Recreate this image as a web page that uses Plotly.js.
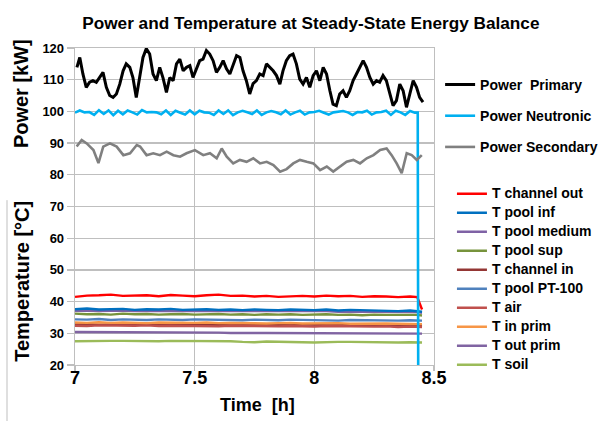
<!DOCTYPE html>
<html>
<head>
<meta charset="utf-8">
<script src="https://cdn.plot.ly/plotly-3.0.1.min.js"></script>
<style>html,body{margin:0;padding:0;background:#fff}#chart{width:598px;height:421px}</style>
</head>
<body>
<div id="chart"></div>
<script>
// ---------- data ----------
const tPrimary = [7.008,7.020,7.033,7.047,7.061,7.075,7.089,7.103,7.117,7.131,7.145,7.159,7.173,7.187,7.201,7.214,7.229,7.242,7.256,7.270,7.284,7.298,7.312,7.326,7.340,7.354,
  7.368,7.382,7.396,7.410,7.424,7.438,7.452,7.466,7.480,7.493,7.507,7.521,7.535,7.549,7.563,7.577,7.591,7.605,7.619,7.633,7.647,7.661,7.675,7.689,7.702,7.716,7.730,
  7.744,7.758,7.772,7.786,7.800,7.814,7.828,7.842,7.856,7.869,7.883,7.897,7.911,7.925,7.939,7.953,7.967,7.981,7.995,8.009,8.023,8.037,8.051,8.065,8.078,8.092,8.106,
  8.120,8.134,8.148,8.162,8.176,8.190,8.204,8.218,8.232,8.246,8.260,8.273,8.287,8.301,8.315,8.329,8.343,8.357,8.371,8.385,8.399,8.413,8.427,8.440,8.454];
const powerPrimary = [113.9,117.0,111.8,107.6,109.2,109.7,109.2,110.7,112.3,107.6,105.0,104.4,105.5,108.6,112.8,115.0,113.9,110.7,104.4,110.7,117.0,119.8,118.1,111.8,109.7,113.9,
  110.5,106.0,110.7,109.7,115.0,116.5,112.8,113.9,114.4,110.7,113.4,116.0,116.5,119.2,118.1,116.0,112.3,113.9,116.0,113.4,111.8,115.0,117.6,117.0,112.8,109.7,105.5,
  108.8,109.7,111.8,111.3,115.0,113.9,112.8,111.3,108.6,112.8,116.0,117.6,118.1,115.0,110.2,108.6,110.7,107.6,111.3,112.8,109.7,113.9,111.8,106.5,102.3,101.8,105.5,
  106.5,104.4,106.5,109.7,111.8,113.9,116.0,113.9,110.7,108.6,109.7,109.2,111.3,109.7,105.5,101.8,103.4,108.6,106.5,101.3,105.5,109.7,107.6,104.4,102.9];

const tNeutronic = [7.00,7.02,7.04,7.06,7.08,7.10,7.12,7.14,7.16,7.18,7.20,7.22,7.24,7.26,7.28,7.30,7.32,7.34,7.36,7.38,
  7.40,7.42,7.44,7.46,7.48,7.50,7.52,7.54,7.56,7.58,7.60,7.62,7.64,7.66,7.68,7.70,7.72,7.74,7.76,7.78,
  7.80,7.82,7.84,7.86,7.88,7.90,7.92,7.94,7.96,7.98,8.00,8.02,8.04,8.06,8.08,8.10,8.12,8.14,8.16,8.18,
  8.20,8.22,8.24,8.26,8.28,8.30,8.32,8.34,8.36,8.38,8.40,8.42,8.432,8.434];
const powerNeutronic = [99.6,100.3,99.7,99.8,98.9,100.4,99.2,100.3,98.8,100.2,99.1,100.3,99.7,99.0,100.4,99.7,99.8,99.7,99.1,100.3,
  98.9,100.2,99.6,99.0,100.3,99.1,100.2,99.7,99.6,98.9,100.3,99.2,100.3,98.8,99.7,100.2,99.7,99.2,100.3,98.9,
  99.7,100.1,99.7,99.1,100.3,99.0,99.7,100.2,99.0,99.7,99.8,100.2,99.6,99.0,99.7,99.8,100.1,99.7,98.9,99.8,
  99.7,100.2,99.0,99.7,99.8,100.2,98.9,100.2,99.7,98.9,100.1,99.6,99.6,20.0];

const tSecondary = [7.007,7.028,7.049,7.077,7.098,7.118,7.146,7.174,7.202,7.230,7.258,7.272,7.299,7.327,7.355,7.383,7.411,7.439,7.466,7.501,
  7.536,7.564,7.592,7.613,7.634,7.661,7.689,7.717,7.745,7.773,7.801,7.829,7.857,7.884,7.912,7.940,7.968,7.996,8.024,8.052,
  8.079,8.107,8.135,8.163,8.191,8.219,8.247,8.275,8.302,8.323,8.344,8.365,8.386,8.407,8.428,8.449];
const powerSecondary = [88.9,91.0,89.9,87.8,83.7,88.9,89.9,88.9,86.2,86.8,89.4,88.9,86.2,86.8,86.2,87.3,86.2,85.7,86.8,87.8,
  86.2,86.8,85.2,88.3,85.7,83.6,84.7,84.1,85.2,83.6,84.1,83.1,81.0,81.8,83.6,84.7,84.1,83.6,81.5,82.6,
  81.0,82.6,84.1,84.7,83.6,85.2,86.2,87.8,88.3,86.2,83.6,80.5,86.8,86.2,84.7,86.2];

const tTemp = [7.00,7.05,7.10,7.15,7.20,7.25,7.30,7.35,7.40,7.45,7.50,7.55,7.60,7.65,7.70,7.75,7.80,7.85,7.90,7.95,
  8.00,8.05,8.10,8.15,8.20,8.25,8.30,8.35,8.40,8.43,8.45];
const tChannelOut = [41.5,41.9,42.0,42.2,41.8,41.9,42.0,41.7,42.1,41.9,41.7,42.0,42.2,41.8,41.9,41.6,41.8,41.5,41.7,41.8,41.6,41.9,41.7,41.8,41.5,41.7,41.6,41.4,41.6,41.4,37.5];
const tPoolInf = [37.6,37.8,37.5,37.6,37.7,37.4,37.6,37.5,37.7,37.4,37.5,37.6,37.4,37.5,37.3,37.5,37.4,37.3,37.5,37.4,37.3,37.5,37.2,37.4,37.3,37.1,37.2,37.0,37.2,37.1,36.8];
const tPoolMedium = [37.1,37.2,37.0,37.1,37.2,37.0,37.1,37.0,37.1,37.0,37.0,37.1,37.0,37.0,36.9,37.0,37.0,36.9,37.0,36.9,36.9,37.0,36.8,36.9,36.9,36.8,36.8,36.7,36.8,36.7,36.5];
const tPoolSup = [36.2,36.0,36.1,35.9,36.2,36.0,36.1,35.9,36.0,36.1,35.9,36.0,36.1,35.9,36.0,35.8,36.0,35.9,36.0,35.8,35.9,36.0,35.8,35.9,35.7,35.9,35.8,35.7,35.8,35.8,35.6];
const tChannelIn = [32.8,32.9,32.7,32.8,32.9,32.7,32.8,32.7,32.9,32.8,32.7,32.8,32.7,32.8,32.6,32.8,32.7,32.6,32.8,32.7,32.6,32.7,32.6,32.7,32.6,32.5,32.6,32.5,32.6,32.5,32.4];
const tPoolPT100 = [34.4,34.3,34.5,34.2,34.4,34.3,34.2,34.4,34.3,34.2,34.4,34.3,34.2,34.3,34.1,34.3,34.2,34.1,34.3,34.2,34.1,34.2,34.0,34.2,34.1,34.0,34.1,34.0,34.1,34.0,34.0];
const tAir = [32.4,32.3,32.5,32.4,32.3,32.4,32.5,32.3,32.4,32.3,32.4,32.3,32.2,32.4,32.3,32.2,32.3,32.2,32.3,32.2,32.1,32.3,32.2,32.1,32.2,32.1,32.2,32.0,32.1,32.1,32.0];
const tInPrim = [33.4,33.3,33.5,33.3,33.4,33.3,33.2,33.4,33.3,33.2,33.3,33.4,33.2,33.3,33.2,33.3,33.1,33.2,33.3,33.1,33.2,33.1,33.2,33.0,33.1,33.0,33.1,33.0,33.0,33.0,32.9];
const tOutPrim = [30.4,30.4,30.3,30.4,30.3,30.3,30.3,30.2,30.3,30.2,30.2,30.2,30.2,30.1,30.2,30.1,30.1,30.1,30.1,30.0,30.1,30.0,30.0,30.0,30.0,29.9,30.0,29.9,29.9,29.9,29.9];
const tSoil = [27.5,27.6,27.5,27.6,27.6,27.5,27.6,27.5,27.6,27.6,27.5,27.5,27.4,27.5,27.3,27.2,27.4,27.4,27.3,27.2,27.1,27.3,27.3,27.3,27.2,27.3,27.0,27.1,27.2,27.2,27.1];

const tempNames = ['T channel out','T pool inf','T pool medium','T pool sup','T channel in','T pool PT-100','T air','T in prim','T out prim','T soil'];
const tempSeries = [tChannelOut,tPoolInf,tPoolMedium,tPoolSup,tChannelIn,tPoolPT100,tAir,tInPrim,tOutPrim,tSoil];
const tempColors = ['#FF0000','#0070C0','#7F62A5','#77933C','#943634','#4F81BD','#C0504D','#F79646','#8064A2','#9BBB59'];

const powerNames = ['Power  Primary','Power Neutronic','Power Secondary'];
const powerX = [tPrimary,tNeutronic,tSecondary];
const powerY = [powerPrimary,powerNeutronic,powerSecondary];
const powerColors = ['#000000','#00B0F0','#808080'];
const powerWidths = [3,2.6,2.6];

const yTicks = [20,30,40,50,60,70,80,90,100,110,120];
const xTicks = [7,7.5,8,8.5];
const xTickText = ['7','7.5','8','8.5'];

// ---------- traces ----------
const FONT = 'Liberation Sans, Arial, sans-serif';
const traces = tempNames.map((n,i)=>({x:tTemp,y:tempSeries[i],type:'scatter',mode:'lines',
  name:'<span style="font-size:14px">'+n+'</span>',
  line:{color:tempColors[i],width:2.4},legend:'legend2',legendrank:i+1}));
// draw "T pool medium" beneath "T pool inf"
const order = [2,0,1,3,4,5,6,7,8,9];
const tempTraces = order.map(i=>traces[i]);
const powerTraces = powerNames.map((n,i)=>({x:powerX[i],y:powerY[i],type:'scatter',mode:'lines',name:n,
  line:{color:powerColors[i],width:powerWidths[i]},legend:'legend',legendgroup:'p'+i,legendrank:i+1}));

const gridC = '#BFBFBF';
const layout = {
  width:598,height:421,
  margin:{l:75,r:164,t:48,b:56,pad:0,autoexpand:false},
  paper_bgcolor:'#ffffff',plot_bgcolor:'#ffffff',
  font:{family:FONT,color:'#000'},
  title:{text:'Power and Temperature at Steady-State Energy Balance',
    font:{family:FONT,size:17.2,weight:'bold',color:'#000'},
    xref:'paper',x:0.657,xanchor:'center',yref:'container',y:0.945,yanchor:'middle'},
  xaxis:{range:[7,8.5],tickvals:xTicks,ticktext:xTickText,showgrid:true,gridcolor:gridC,gridwidth:1.3,
    showline:true,linecolor:gridC,linewidth:1.3,mirror:true,zeroline:false,
    ticks:'outside',ticklen:5,tickcolor:gridC,tickwidth:1.3,ticklabelstandoff:-9,
    tickfont:{family:FONT,size:18,weight:'bold',color:'#000'}},
  yaxis:{range:[20,120],tickvals:yTicks,showgrid:true,gridcolor:gridC,gridwidth:1.3,
    showline:true,linecolor:gridC,linewidth:1.3,mirror:true,zeroline:false,
    ticks:'outside',ticklen:7,tickcolor:gridC,tickwidth:1.3,
    tickfont:{family:FONT,size:13,weight:'bold',color:'#000'}},
  legend:{x:1.017,xanchor:'left',y:0.934,yanchor:'top',traceorder:'grouped',tracegroupgap:10,
    font:{family:FONT,size:14,weight:'bold',color:'#000'},bgcolor:'rgba(0,0,0,0)',itemwidth:30},
  legend2:{x:1.05,xanchor:'left',y:0.586,yanchor:'top',traceorder:'normal',
    font:{family:FONT,size:11.8,weight:'bold',color:'#000'},bgcolor:'rgba(0,0,0,0)',itemwidth:30},
  showlegend:true,
  annotations:[
    {text:'Power [kW]',xref:'paper',yref:'paper',x:-0.150,y:0.855,xanchor:'center',yanchor:'middle',
      textangle:-90,showarrow:false,font:{family:FONT,size:20,weight:'bold',color:'#000'}},
    {text:'Temperature [°C]',xref:'paper',yref:'paper',x:-0.150,y:0.263,xanchor:'center',yanchor:'middle',
      textangle:-90,showarrow:false,font:{family:FONT,size:20,weight:'bold',color:'#000'}},
    {text:'Time  [h]',xref:'paper',yref:'paper',x:0.508,y:-0.125,xanchor:'center',yanchor:'middle',
      showarrow:false,font:{family:FONT,size:18,weight:'bold',color:'#000'}}
  ],
  shapes:[
    {type:'line',xref:'paper',yref:'paper',x0:-0.1894,x1:-0.1894,y0:0.52,y1:-0.2,line:{color:'#BFBFBF',width:1}}
  ]
};

Plotly.newPlot('chart',[...tempTraces,...powerTraces],layout,{staticPlot:true,displayModeBar:false});
</script>
</body>
</html>
